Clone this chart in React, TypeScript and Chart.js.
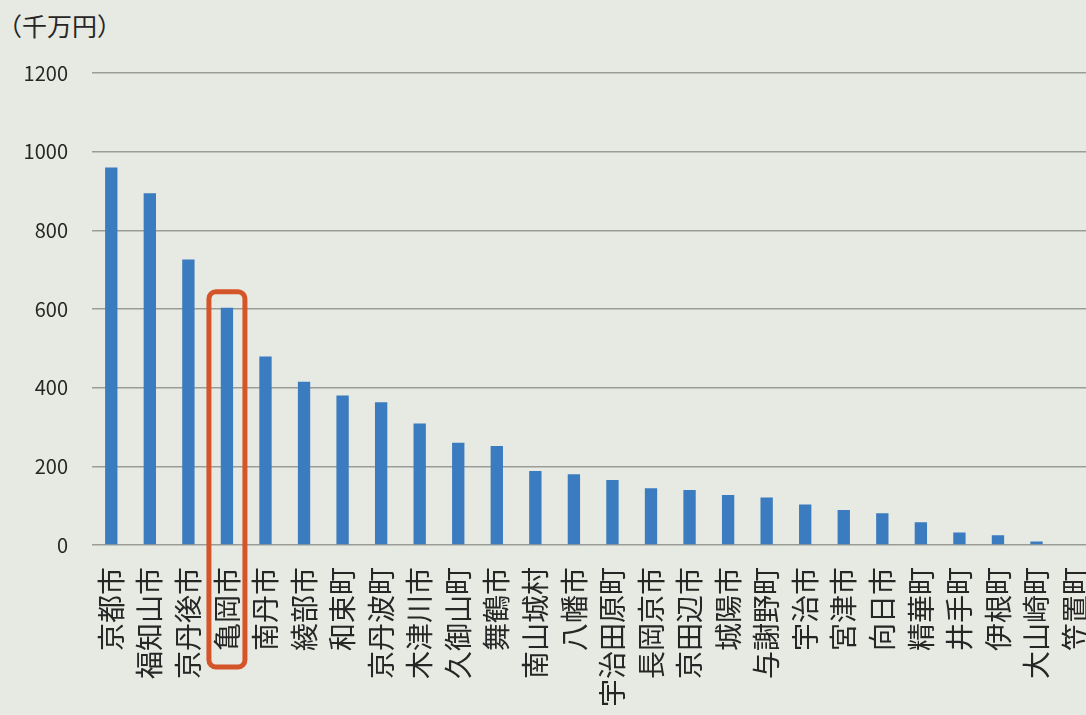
import { useEffect, useRef } from 'react';
import { Chart, registerables } from 'chart.js';

Chart.register(...registerables);

const categories = [
  '京都市', '福知山市', '京丹後市', '亀岡市', '南丹市', '綾部市', '和束町', '京丹波町',
  '木津川市', '久御山町', '舞鶴市', '南山城村', '八幡市', '宇治田原町', '長岡京市', '京田辺市',
  '城陽市', '与謝野町', '宇治市', '宮津市', '向日市', '精華町', '井手町', '伊根町', '大山崎町', '笠置町',
];
const values = [
  960, 894, 726, 603, 479, 415, 380, 363,
  309, 260, 252, 188, 180, 165, 144, 140,
  127, 121, 103, 89, 81, 58, 32, 25, 9, 0,
];
const yMax = 1200;
const yStep = 200;
const unitLabel = '（千万円）';
const highlightIndex = 3;
const highlightTopValue = 644;

const BG = '#e7eae2';
const BAR = '#3b7bbf';
const GRID = '#9a9d97';
const TEXT = '#262626';
const HIGHLIGHT = '#d5552b';
const FONT = '"Noto Sans CJK JP", "Noto Sans", sans-serif';

const highlightPlugin = {
  id: 'highlightBox',
  afterDraw(chart: any) {
    const { ctx, chartArea, scales } = chart;
    const x = scales.x.getPixelForValue(highlightIndex);
    const half = 18;
    const top = scales.y.getPixelForValue(highlightTopValue);
    const bottom = chartArea.bottom + 122;
    ctx.save();
    ctx.strokeStyle = HIGHLIGHT;
    ctx.lineWidth = 5;
    ctx.beginPath();
    ctx.roundRect(x - half, top, half * 2, bottom - top, 7);
    ctx.stroke();
    ctx.restore();
  },
};

export default function App() {
  const ref = useRef<HTMLCanvasElement>(null);
  useEffect(() => {
    const chart = new Chart(ref.current!, {
      type: 'bar',
      data: {
        labels: categories,
        datasets: [
          {
            data: values,
            backgroundColor: BAR,
            barPercentage: 0.32,
            categoryPercentage: 1,
          },
        ],
      },
      options: {
        animation: false,
        responsive: false,
        maintainAspectRatio: false,
        layout: { padding: { top: 73, left: 0, right: 17, bottom: 0 } },
        plugins: { legend: { display: false }, tooltip: { enabled: false } },
        scales: {
          x: {
            grid: { display: false },
            border: { display: false },
            ticks: {
              autoSkip: false,
              maxRotation: 90,
              minRotation: 90,
              padding: 14,
              color: TEXT,
              font: { family: FONT, size: 28 },
            },
            afterFit: (s: any) => {
              s.height = 215;
            },
          },
          y: {
            min: 0,
            max: yMax,
            ticks: {
              stepSize: yStep,
              padding: 24,
              color: TEXT,
              font: { family: FONT, size: 20 },
              callback: (v: any) => String(v),
            },
            grid: { color: GRID, lineWidth: 1.5, drawTicks: false, tickLength: 0 },
            border: { display: false },
            afterFit: (s: any) => {
              s.width = 92;
            },
          },
        },
      },
      plugins: [highlightPlugin],
    });
    return () => chart.destroy();
  }, []);

  return (
    <div
      style={{
        position: 'fixed',
        left: 0,
        top: 0,
        width: 1086,
        height: 715,
        overflow: 'hidden',
        background: BG,
      }}
    >
      <div
        style={{
          position: 'absolute',
          left: -3,
          top: 8,
          fontFamily: FONT,
          fontSize: 25,
          lineHeight: '34px',
          color: TEXT,
          whiteSpace: 'nowrap',
        }}
      >
        {unitLabel}
      </div>
      <canvas
        ref={ref}
        width={1123}
        height={760}
        style={{ position: 'absolute', left: 0, top: 0 }}
      />
    </div>
  );
}
